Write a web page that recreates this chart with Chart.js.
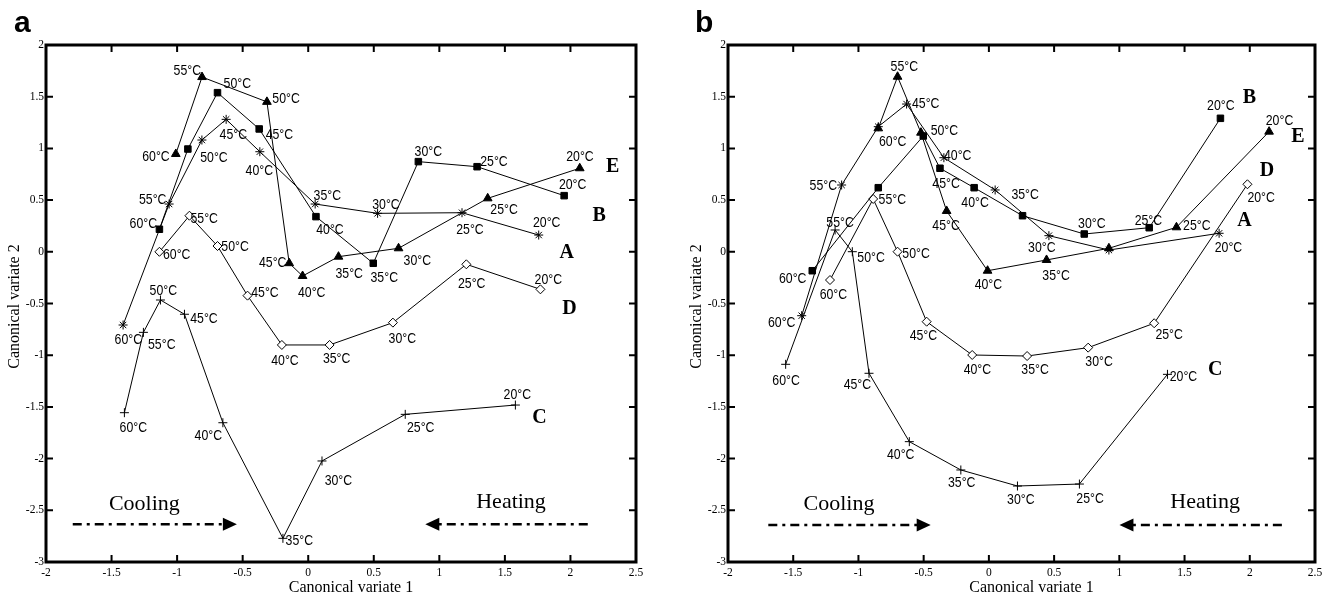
<!DOCTYPE html>
<html>
<head>
<meta charset="utf-8">
<script src="https://cdn.jsdelivr.net/npm/chart.js@4.4.1/dist/chart.umd.min.js"></script>
<style>
  body { margin: 0; background: #fff; width: 1331px; height: 599px; overflow: hidden; position: relative; }
  canvas { position: absolute; top: 0; }
  #chartA { left: 0; }
  #chartB { left: 660px; }
</style>
</head>
<body>
<canvas id="chartA" width="660" height="599"></canvas>
<canvas id="chartB" width="671" height="599"></canvas>
<script>
// temperatures go 60, 55, 50, 45, 40, 35, 30, 25, 20 °C along every curve

// panel a
var aAx = [-1.412, -1.061, -0.811, -0.626, -0.369, 0.053, 0.529, 1.173, 1.758];
var aAy = [-0.708, 0.462, 1.081, 1.281, 0.968, 0.462, 0.372, 0.378, 0.162];
var aBx = [-1.135, -0.918, -0.692, -0.374, 0.059, 0.496, 0.840, 1.288, 1.952];
var aBy = [0.218, 0.994, 1.539, 1.188, 0.340, -0.111, 0.872, 0.823, 0.543];
var aCx = [-1.402, -1.257, -1.127, -0.944, -0.651, -0.193, 0.105, 0.740, 1.580];
var aCy = [-1.556, -0.779, -0.466, -0.604, -1.653, -2.771, -2.023, -1.572, -1.482];
var aDx = [-1.135, -0.906, -0.692, -0.463, -0.201, 0.163, 0.646, 1.206, 1.771];
var aDy = [0.000, 0.349, 0.056, -0.424, -0.901, -0.901, -0.685, -0.121, -0.363];
var aEx = [-1.010, -0.810, -0.315, -0.145, -0.043, 0.231, 0.689, 1.369, 2.071];
var aEy = [0.946, 1.690, 1.450, -0.110, -0.234, -0.047, 0.034, 0.517, 0.808];

// panel b
var bAx = [-1.435, -1.129, -0.848, -0.631, -0.345, 0.048, 0.460, 0.920, 1.765];
var bAy = [-0.618, 0.646, 1.210, 1.429, 0.910, 0.598, 0.156, 0.017, 0.179];
var bBx = [-1.354, -0.848, -0.503, -0.375, -0.113, 0.258, 0.731, 1.229, 1.775];
var bBy = [-0.183, 0.620, 1.120, 0.808, 0.620, 0.349, 0.172, 0.233, 1.291];
var bCx = [-1.558, -1.179, -1.047, -0.919, -0.610, -0.215, 0.219, 0.694, 1.369];
var bCy = [-1.088, 0.211, 0.001, -1.175, -1.836, -2.110, -2.265, -2.246, -1.185];
var bDx = [-1.218, -0.887, -0.700, -0.477, -0.128, 0.293, 0.761, 1.267, 1.982];
var bDy = [-0.273, 0.511, 0.001, -0.676, -0.998, -1.008, -0.927, -0.691, 0.653];
var bEx = [-0.848, -0.700, -0.521, -0.324, -0.010, 0.442, 0.920, 1.438, 2.148];
var bEy = [1.194, 1.693, 1.152, 0.395, -0.183, -0.079, 0.034, 0.237, 1.162];

var xTicks = [-2, -1.5, -1, -0.5, 0, 0.5, 1, 1.5, 2, 2.5];
var yTicks = [-3, -2.5, -2, -1.5, -1, -0.5, 0, 0.5, 1, 1.5, 2];

// text placed on the plot, in axis units
var tempLabelsA = [
  ['55°C', -0.922, 1.765], ['50°C', -0.541, 1.635], ['50°C', -0.169, 1.490],
  ['45°C', -0.571, 1.146], ['45°C', -0.220, 1.146], ['60°C', -1.161, 0.927],
  ['50°C', -0.719, 0.920], ['40°C', -0.373, 0.791], ['55°C', -1.186, 0.517],
  ['60°C', -1.258, 0.281], ['55°C', -0.793, 0.330], ['60°C', -1.003, -0.015],
  ['50°C', -0.558, 0.056], ['45°C', -0.271, -0.099], ['40°C', 0.027, -0.386],
  ['45°C', -0.330, -0.386], ['50°C', -1.105, -0.363], ['35°C', 0.146, 0.549],
  ['40°C', 0.166, 0.227], ['30°C', 0.593, 0.469], ['30°C', 0.916, 0.978],
  ['25°C', 1.417, 0.881], ['20°C', 2.073, 0.927], ['20°C', 2.017, 0.656],
  ['25°C', 1.494, 0.414], ['25°C', 1.234, 0.227], ['20°C', 1.819, 0.291],
  ['30°C', 0.832, -0.073], ['35°C', 0.313, -0.202], ['35°C', 0.580, -0.241],
  ['25°C', 1.247, -0.299], ['20°C', 1.831, -0.256], ['60°C', -1.372, -0.837],
  ['55°C', -1.117, -0.892], ['45°C', -0.795, -0.633], ['40°C', -0.177, -1.046],
  ['60°C', -1.334, -1.691], ['40°C', -0.762, -1.772], ['35°C', -0.068, -2.787],
  ['35°C', 0.217, -1.020], ['30°C', 0.718, -0.827], ['30°C', 0.230, -2.207],
  ['25°C', 0.858, -1.691], ['20°C', 1.595, -1.368]
];
var tempLabelsB = [
  ['55°C', -0.648, 1.797], ['45°C', -0.484, 1.446], ['50°C', -0.341, 1.178],
  ['60°C', -0.737, 1.072], ['40°C', -0.239, 0.943], ['55°C', -1.269, 0.646],
  ['45°C', -0.328, 0.668], ['40°C', -0.106, 0.485], ['55°C', -0.740, 0.517],
  ['45°C', -0.328, 0.259], ['55°C', -1.141, 0.291], ['50°C', -0.903, -0.047],
  ['50°C', -0.558, -0.009], ['60°C', -1.504, -0.247], ['60°C', -1.192, -0.401],
  ['40°C', -0.004, -0.305], ['60°C', -1.588, -0.676], ['60°C', -1.555, -1.240],
  ['45°C', -1.008, -1.279], ['45°C', -0.502, -0.805], ['40°C', -0.088, -1.127],
  ['40°C', -0.676, -1.949], ['35°C', -0.208, -2.223], ['20°C', 1.778, 1.420],
  ['20°C', 2.228, 1.281], ['20°C', 2.087, 0.533], ['35°C', 0.278, 0.559],
  ['30°C', 0.789, 0.281], ['25°C', 1.223, 0.314], ['25°C', 1.594, 0.259],
  ['30°C', 0.406, 0.049], ['20°C', 1.837, 0.049], ['35°C', 0.515, -0.218],
  ['25°C', 1.382, -0.795], ['35°C', 0.354, -1.127], ['30°C', 0.845, -1.056],
  ['20°C', 1.492, -1.198], ['30°C', 0.245, -2.384], ['25°C', 0.776, -2.374]
];
var curveTagsA = [['E', 2.323, 0.839], ['B', 2.220, 0.363], ['A', 1.972, 0.001], ['D', 1.992, -0.537], ['C', 1.763, -1.595]];
var curveTagsB = [['B', 1.998, 1.500], ['E', 2.369, 1.130], ['D', 2.131, 0.798], ['A', 1.959, 0.314], ['C', 1.735, -1.127]];
var notesA = [['Cooling', -1.250, -2.425], ['Heating', 1.547, -2.405]];
var notesB = [['Cooling', -1.149, -2.425], ['Heating', 1.658, -2.407]];
// arrows: from x, to x (head), at y
var arrowsA = [[-1.796, -0.544, -2.635], [2.132, 0.893, -2.635]];
var arrowsB = [[-1.691, -0.446, -2.642], [2.246, 1.001, -2.642]];

function pts(xs, ys) {
  return xs.map(function (x, i) { return { x: x, y: ys[i] }; });
}

function series(xs, ys, style, radius, fill) {
  return {
    data: pts(xs, ys),
    showLine: true,
    borderColor: '#000',
    borderWidth: 1,
    pointStyle: style,
    pointRadius: radius,
    pointBorderWidth: 1,
    pointBorderColor: '#000',
    pointBackgroundColor: fill,
    tension: 0
  };
}

var decorPlugin = {
  id: 'decor',
  afterDatasetsDraw: function (chart) {
    var opt = chart.options.plugins.decor;
    var ctx = chart.ctx, x = chart.scales.x, y = chart.scales.y;
    ctx.save();
    ctx.fillStyle = '#000';
    ctx.textAlign = 'center';
    ctx.textBaseline = 'alphabetic';

    ctx.font = '15px "Liberation Sans", Arial, sans-serif';
    opt.temps.forEach(function (t) {
      ctx.save();
      ctx.translate(x.getPixelForValue(t[1]), y.getPixelForValue(t[2]) + 5.4);
      ctx.scale(0.82, 1);
      ctx.fillText(t[0], 0, 0);
      ctx.restore();
    });

    ctx.font = 'bold 20px "Liberation Serif", "Times New Roman", serif';
    opt.tags.forEach(function (t) {
      ctx.fillText(t[0], x.getPixelForValue(t[1]), y.getPixelForValue(t[2]) + 6.6);
    });

    ctx.font = '22px "Liberation Serif", "Times New Roman", serif';
    opt.notes.forEach(function (t) {
      ctx.fillText(t[0], x.getPixelForValue(t[1]), y.getPixelForValue(t[2]) + 7.3);
    });

    ctx.strokeStyle = '#000';
    opt.arrows.forEach(function (a) {
      var x0 = x.getPixelForValue(a[0]), x1 = x.getPixelForValue(a[1]), py = y.getPixelForValue(a[2]);
      var dir = x1 > x0 ? 1 : -1;
      ctx.lineWidth = 2.5;
      ctx.setLineDash([9, 5, 3, 5]);
      ctx.beginPath();
      ctx.moveTo(x0, py);
      ctx.lineTo(x1 - dir * 13, py);
      ctx.stroke();
      ctx.setLineDash([]);
      ctx.beginPath();
      ctx.moveTo(x1, py);
      ctx.lineTo(x1 - dir * 14, py - 6.5);
      ctx.lineTo(x1 - dir * 14, py + 6.5);
      ctx.closePath();
      ctx.fill();
    });
    ctx.restore();
  },
  afterDraw: function (chart) {
    var opt = chart.options.plugins.decor;
    var ctx = chart.ctx, a = chart.chartArea, x = chart.scales.x, y = chart.scales.y;
    ctx.save();
    ctx.strokeStyle = '#000';
    ctx.lineWidth = 2;
    ctx.beginPath();
    xTicks.forEach(function (v) {
      var px = x.getPixelForValue(v);
      ctx.moveTo(px, a.bottom); ctx.lineTo(px, a.bottom - 7);
      ctx.moveTo(px, a.top); ctx.lineTo(px, a.top + 7);
    });
    yTicks.forEach(function (v) {
      var py = y.getPixelForValue(v);
      ctx.moveTo(a.left, py); ctx.lineTo(a.left + 7, py);
      ctx.moveTo(a.right, py); ctx.lineTo(a.right - 7, py);
    });
    ctx.stroke();
    ctx.lineWidth = 3;
    ctx.strokeRect(a.left, a.top, a.right - a.left, a.bottom - a.top);

    // axis titles
    ctx.fillStyle = '#000';
    ctx.font = '16px "Liberation Serif", "Times New Roman", serif';
    ctx.textAlign = 'center';
    ctx.textBaseline = 'middle';
    ctx.fillText('Canonical variate 1', (a.left + a.right) / 2 + 10, 588);
    ctx.save();
    ctx.translate(a.left - 31, (a.top + a.bottom) / 2 + 3);
    ctx.rotate(-Math.PI / 2);
    ctx.fillText('Canonical variate 2', 0, 0);
    ctx.restore();

    // panel letter
    ctx.font = 'bold 30px "Liberation Sans", Arial, sans-serif';
    ctx.textAlign = 'left';
    ctx.textBaseline = 'alphabetic';
    ctx.fillText(opt.letter, opt.letterX, 32);
    ctx.restore();
  }
};

function makeChart(id, sets, yWidth, rightPad, decor) {
  var tickFont = { family: '"Liberation Serif", "Times New Roman", serif', size: 11.5 };
  var plain = function (v) { return String(v); };
  return new Chart(document.getElementById(id), {
    type: 'scatter',
    data: { datasets: sets },
    options: {
      responsive: false,
      animation: false,
      events: [],
      layout: { padding: { left: 0, right: rightPad, top: 45, bottom: 0 } },
      plugins: { legend: { display: false }, tooltip: { enabled: false }, decor: decor },
      scales: {
        x: {
          type: 'linear', min: -2, max: 2.5,
          grid: { display: false, drawTicks: false },
          border: { display: false },
          afterBuildTicks: function (s) { s.ticks = xTicks.map(function (v) { return { value: v }; }); },
          ticks: { autoSkip: false, maxRotation: 0, padding: 4, color: '#000', font: tickFont, callback: plain },
          afterFit: function (s) { s.height = 37; }
        },
        y: {
          type: 'linear', min: -3, max: 2,
          grid: { display: false, drawTicks: false },
          border: { display: false },
          afterBuildTicks: function (s) { s.ticks = yTicks.map(function (v) { return { value: v }; }); },
          ticks: { autoSkip: false, padding: 2, color: '#000', font: tickFont, callback: plain },
          afterFit: function (s) { s.width = yWidth; }
        }
      }
    },
    plugins: [decorPlugin]
  });
}

makeChart('chartA', [
  series(aAx, aAy, 'star', 4.5, '#000'),
  series(aBx, aBy, 'rect', 4.6, '#000'),
  series(aCx, aCy, 'cross', 4.5, '#000'),
  series(aDx, aDy, 'rectRot', 4.5, '#fff'),
  series(aEx, aEy, 'triangle', 5, '#000')
], 46, 24, { temps: tempLabelsA, tags: curveTagsA, notes: notesA, arrows: arrowsA, letter: 'a', letterX: 14 });

makeChart('chartB', [
  series(bAx, bAy, 'star', 4.5, '#000'),
  series(bBx, bBy, 'rect', 4.6, '#000'),
  series(bCx, bCy, 'cross', 4.5, '#000'),
  series(bDx, bDy, 'rectRot', 4.5, '#fff'),
  series(bEx, bEy, 'triangle', 5, '#000')
], 68, 16, { temps: tempLabelsB, tags: curveTagsB, notes: notesB, arrows: arrowsB, letter: 'b', letterX: 35 });
</script>
</body>
</html>
